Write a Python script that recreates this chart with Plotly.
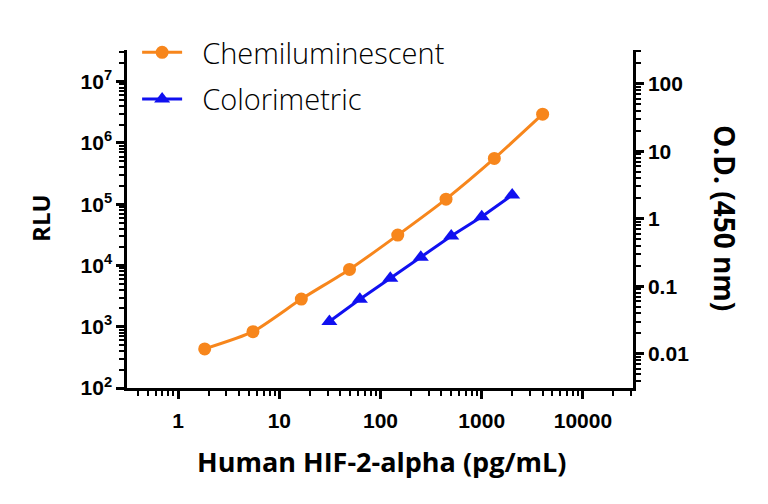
import plotly.graph_objects as go

# ---- data ----
conc_chemi = [1.83, 5.49, 16.5, 49.4, 148, 444, 1333, 4000]
rlu_chemi = [435, 830, 2830, 8630, 31300, 121000, 558000, 2950000]

conc_color = [31.25, 62.5, 125, 250, 500, 1000, 2000]
od_color = [0.030, 0.064, 0.131, 0.268, 0.554, 1.07, 2.24]

x_tickvals = [1, 10, 100, 1000, 10000]
x_ticktext = ["1", "10", "100", "1000", "10000"]
yl_tickvals = [1e2, 1e3, 1e4, 1e5, 1e6, 1e7]
yl_ticktext = ["10<sup>2</sup>", "10<sup>3</sup>", "10<sup>4</sup>",
               "10<sup>5</sup>", "10<sup>6</sup>", "10<sup>7</sup>"]
yr_tickvals = [0.01, 0.1, 1, 10, 100]
yr_ticktext = ["0.01", "0.1", "1", "10", "100"]

series_names = ["Chemiluminescent", "Colorimetric"]
x_title = "Human HIF-2-alpha (pg/mL)"
yl_title = "RLU"
yr_title = "O.D. (450 nm)"

ORANGE = "#F7861C"
BLUE = "#1010F0"

tickfont = dict(family="Liberation Sans, Arial", size=21, color="black", weight="bold")
PAD = "\u00a0\u00a0"

fig = go.Figure()
fig.add_trace(go.Scatter(
    x=conc_chemi, y=rlu_chemi, name=PAD + series_names[0], mode="lines+markers",
    line=dict(color=ORANGE, width=3, shape="spline", smoothing=0.6),
    marker=dict(symbol="circle", size=13, color=ORANGE),
    legendgroup="a", yaxis="y"))
fig.add_trace(go.Scatter(
    x=conc_color, y=od_color, name=PAD + series_names[1], mode="lines+markers",
    line=dict(color=BLUE, width=3),
    marker=dict(symbol="triangle-up", size=14, color=BLUE),
    legendgroup="b", yaxis="y2"))

axis_common = dict(
    type="log", showline=True, linecolor="black", linewidth=2.5,
    ticks="outside", ticklen=8, tickwidth=2.5, tickcolor="black",
    showgrid=False, zeroline=False, tickfont=tickfont, tickmode="array",
)
minor = dict(dtick="D1", ticks="outside", ticklen=5, tickwidth=2, tickcolor="black", showgrid=False)

fig.update_layout(
    width=768, height=504,
    margin=dict(l=127, r=135, t=50, b=116, pad=0),
    paper_bgcolor="white", plot_bgcolor="white",
    xaxis=dict(**axis_common, range=[-0.505, 4.495],
               tickvals=x_tickvals, ticktext=x_ticktext, minor=minor,
               ticklabelstandoff=4),
    yaxis=dict(**axis_common, range=[2, 7.517],
               tickvals=yl_tickvals, ticktext=yl_ticktext, minor=minor),
    yaxis2=dict(**axis_common, range=[-2.508, 2.499], overlaying="y", side="right",
                anchor="x", tickvals=yr_tickvals, ticktext=yr_ticktext, minor=minor),
    showlegend=True,
    legend=dict(x=0.02, y=1.068, xanchor="left", yanchor="top",
                font=dict(family="Open Sans, Lato", size=29, color="black", weight=300),
                bgcolor="rgba(0,0,0,0)", borderwidth=0, tracegroupgap=6,
                itemwidth=40),
    annotations=[
        dict(text=x_title, xref="paper", yref="paper", x=0.503, y=-0.216,
             showarrow=False, font=dict(family="Open Sans, Lato", size=27, color="black", weight="bold"),
             xanchor="center", yanchor="middle"),
        dict(text=yl_title, xref="paper", yref="paper", x=-0.170, y=0.503,
             showarrow=False, font=dict(family="Open Sans, Lato", size=24, color="black", weight="bold"),
             textangle=-90, xanchor="center", yanchor="middle"),
        dict(text=yr_title, xref="paper", yref="paper", x=1.182, y=0.503,
             showarrow=False, font=dict(family="Open Sans, Lato", size=28, color="black", weight="bold"),
             textangle=90, xanchor="center", yanchor="middle"),
    ],
)

fig.write_html("out.html")
